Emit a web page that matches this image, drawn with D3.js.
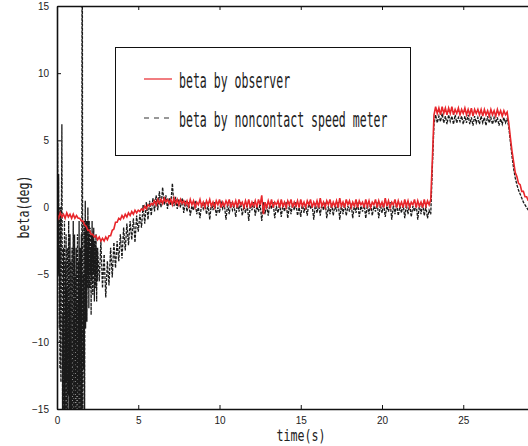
<!DOCTYPE html>
<html>
<head>
<meta charset="utf-8">
<script src="https://cdn.jsdelivr.net/npm/d3@7"></script>
<style>
  body { margin: 0; background: #fff; }
  svg { display: block; }
</style>
</head>
<body>
<div id="container"></div>
<script>
// observer estimate, one value every 0.1 s from 0 s
var observer = [
  -0.5,-0.8,-0.4,-0.7,-0.5,-0.8,-0.4,-0.7,-0.5,-0.8,
  -0.5,-0.8,-0.6,-0.8,-0.8,-1.0,-1.0,-1.3,-1.4,-1.7,
  -1.7,-2.0,-2.0,-2.2,-2.1,-2.4,-2.2,-2.5,-2.3,-2.5,
  -2.2,-2.4,-2.1,-2.1,-1.7,-1.6,-1.1,-1.1,-0.8,-0.9,
  -0.6,-0.8,-0.5,-0.7,-0.4,-0.6,-0.3,-0.5,-0.2,-0.4,
  -0.2,-0.3,-0.1,-0.2,0.1,-0.1,0.2,0.1,0.3,0.2,
  0.5,0.2,0.6,0.3,0.6,0.3,0.7,0.4,0.6,0.3,
  0.6,0.2,0.7,0.3,0.6,0.2,0.6,0.3,0.5,0.2,
  0.5,0.1,0.6,0.2,0.5,0.0,0.4,0.2,0.6,0.1,
  0.4,0.0,0.5,0.2,0.6,0.1,0.4,0.0,0.5,0.2,
  0.6,0.0,0.4,0.1,0.5,0.2,0.6,0.0,0.4,0.1,
  0.5,0.0,0.6,0.2,0.4,0.0,0.5,0.1,0.6,0.0,
  0.4,0.1,0.5,0.0,0.6,0.2,0.9,-0.5,0.4,0.0,
  0.5,0.1,0.6,0.0,0.4,0.2,0.5,0.0,0.6,0.1,
  0.4,0.0,0.5,0.2,0.6,0.0,0.4,0.1,0.5,0.0,
  0.6,0.1,0.4,0.0,0.5,0.2,0.6,0.0,0.4,0.1,
  0.5,0.0,0.7,0.1,0.4,0.0,0.5,0.2,0.6,0.0,
  0.4,0.1,0.5,0.0,0.7,0.1,0.4,0.0,0.6,0.2,
  0.5,0.0,0.4,0.1,0.6,0.0,0.5,0.2,0.4,0.0,
  0.6,0.1,0.5,0.0,0.4,0.2,0.6,0.0,0.5,0.1,
  0.4,0.0,0.7,0.1,0.5,0.0,0.4,0.2,0.6,0.0,
  0.5,0.1,0.4,0.0,0.6,0.1,0.5,0.0,0.4,0.2,
  0.6,0.0,0.5,0.1,0.4,0.0,0.6,0.1,0.5,0.2,
  0.6,3.6,6.9,7.5,7.0,7.4,6.9,7.5,7.0,7.4,
  6.9,7.4,7.0,7.5,6.9,7.3,7.0,7.4,6.9,7.3,
  7.0,7.4,6.9,7.3,6.9,7.4,6.8,7.3,7.0,7.3,
  6.9,7.3,6.8,7.3,6.9,7.2,6.8,7.3,6.9,7.2,
  6.8,7.3,6.9,7.2,6.8,7.2,6.9,7.1,6.3,5.2,
  4.2,3.4,2.6,2.3,1.8,1.7,1.2,1.2,0.8,0.8,
  0.5
];
var observerStep = 0.1;

// speed meter, first 2.5 s sampled every 0.02 s
var meterEarly = [
  0.5,2,4.8,-2,-5,2.5,-1,-9,-3,-12,
  0,-7,-13,-2,1,6.2,-4,-15,-8,-15,
  -3,-11,-15,-1,-9,-15,-4,-13,-2,-15,
  -6,-15,-3,-12,-15,-5,-1,-14,-7,-15,
  -2,-10,-15,-4,-13,-15,-3,-9,-15,-6,
  -1,-15,-8,-15,-2,-12,-15,-5,-15,-3,
  -14,-7,-15,-2,-11,-15,-4,-15,-1,-13,
  -6,-15,-3,-15,-9,-2,-15,18,18,-14,
  -15,-5,-12,-1,-8,-15,-3,0.5,-9,-2,
  -7,-1,-8.5,-3,-6,0,-5,-2,-7.5,-1,
  -4,-6,-1.5,-5,-3,-8,-2,-5.5,-1,-4,
  -6.5,-2,-5,-1.5,-4.5,-7,-2.5,-5,-3,-6,
  -2,-4.5,-7,-3,-5.5
];
var meterEarlyStep = 0.02;

// speed meter from 2.5 s, every 0.1 s
var meterMain = [
  -3,-5.5,-2.5,-6,-3.5,
  -6.7,-4,-5.8,-3,-5.2,-2.6,-4.5,-2.5,-4,-2,
  -3.8,-1.5,-3.2,-1.2,-2.8,-1,-2.4,-0.8,-2.6,-0.6,
  -1.8,-0.5,-1.5,0.2,-1.2,0.4,-0.9,0.5,-0.6,0.7,
  -0.3,0.9,-0.2,1.2,0,1.5,0.2,0.9,-0.1,0.7,
  0.2,1.8,0.1,0.8,-0.1,0.6,0,0.7,-0.4,0.5,
  -0.3,0.4,-0.6,0.1,-0.2,0.5,-0.5,0.0,-0.8,0.3,
  -0.1,0.4,-0.5,0.2,-0.9,0.3,-0.2,0.4,-0.6,0.0,
  -0.4,0.5,-0.1,0.2,-0.9,0.3,-0.5,0.4,-0.2,0.1,
  -0.7,0.3,-0.3,0.4,-0.6,0.1,-0.4,0.3,-1.0,0.2,
  -0.2,0.4,-0.6,0.1,-0.3,0.3,-1.0,0.4,-0.5,0.2,
  -0.6,0.3,-0.1,0.4,-0.8,0.1,-0.4,0.3,-0.7,0.2,
  -0.3,0.4,-0.8,0.2,-0.5,0.3,-0.2,0.4,-0.6,0.0,
  -0.7,0.3,-0.4,0.2,-0.6,0.4,-0.1,0.2,-0.9,0.3,
  -0.4,0.2,-0.6,0.3,-0.2,0.4,-0.8,0.1,-0.5,0.3,
  -0.6,0.2,-0.3,0.4,-0.9,0.2,-0.5,0.3,-0.6,0.1,
  -0.3,0.3,-0.8,0.2,-0.4,0.4,-0.7,0.1,-0.3,0.3,
  -0.8,0.2,-0.5,0.3,-0.6,0.1,-0.3,0.4,-0.8,0.2,
  -0.4,0.3,-0.7,0.1,-0.3,0.4,-0.9,0.2,-0.5,0.3,
  -0.6,0.1,-0.4,0.3,-0.8,0.2,-0.5,0.3,-0.7,0.1,
  -0.3,0.3,-0.9,0.2,-0.5,0.3,-0.6,0.1,-0.8,-0.2,
  -0.5,3.0,6.2,6.9,6.3,6.8,6.4,7.0,6.3,6.8,
  6.2,6.9,6.4,6.8,6.2,6.9,6.3,6.7,6.4,6.8,
  6.2,6.8,6.3,6.9,6.2,6.7,6.1,6.8,6.3,6.7,
  6.2,6.8,6.3,6.7,6.1,6.8,6.3,6.7,6.2,6.7,
  6.3,6.7,6.1,6.6,6.2,6.7,6.3,6.6,6.0,4.9,
  3.8,2.9,2.2,1.7,1.3,1.0,0.7,0.4,0.2,0.0,
  -0.2
];
var meterMainStart = 2.5;
var meterMainStep = 0.1;

var xTicks = [0, 5, 10, 15, 20, 25];
var yTicks = [-15, -10, -5, 0, 5, 10, 15];
var legendLabels = ["beta by observer", "beta by noncontact speed meter"];

var width = 528, height = 446;
var plotLeft = 57, plotTop = 6, plotBottom = 409;

var x = d3.scaleLinear().domain([0, 30]).range([plotLeft, plotLeft + 30 * 16.25]);
var y = d3.scaleLinear().domain([-15, 15]).range([plotBottom, plotTop]);

var observerPts = observer.map((v, i) => [i * observerStep, v]);
var meterPts = meterEarly.map((v, i) => [i * meterEarlyStep, v])
  .concat(meterMain.map((v, i) => [meterMainStart + i * meterMainStep, v]));

var svg = d3.select("#container").append("svg")
  .attr("width", width)
  .attr("height", height);

svg.append("clipPath").attr("id", "plot")
  .append("rect")
    .attr("x", x(0)).attr("y", plotTop)
    .attr("width", x(30) - x(0)).attr("height", plotBottom - plotTop);

var line = d3.line().x(d => x(d[0])).y(d => y(d[1]));

var lines = svg.append("g").attr("clip-path", "url(#plot)");

lines.append("path")
    .datum(meterPts)
    .attr("fill", "none")
    .attr("stroke", "#1a1a1a")
    .attr("stroke-width", 1.3)
    .attr("stroke-dasharray", "3,1.2")
    .attr("d", line);

lines.append("path")
    .datum(observerPts)
    .attr("fill", "none")
    .attr("stroke", "#e8262b")
    .attr("stroke-width", 1.6)
    .attr("d", line);

// axes, ticks pointing inward
var tickFont = "'Liberation Sans Narrow', 'Liberation Sans', Arial, sans-serif";

var gx = svg.append("g")
    .attr("transform", `translate(0,${plotBottom})`)
    .call(d3.axisBottom(x).tickValues(xTicks).tickSizeInner(-4).tickSizeOuter(0).tickPadding(8));

var gtop = svg.append("g")
    .attr("transform", `translate(0,${plotTop})`)
    .call(d3.axisTop(x).tickValues(xTicks).tickSizeInner(-4).tickSizeOuter(0).tickFormat(""));

var gy = svg.append("g")
    .attr("transform", `translate(${plotLeft},0)`)
    .call(d3.axisLeft(y).tickValues(yTicks).tickSizeInner(-4).tickSizeOuter(0).tickPadding(8));

[gx, gtop, gy].forEach(g => {
  g.select(".domain").attr("stroke", "#111").attr("stroke-width", 1.6);
  g.selectAll(".tick line").attr("stroke", "#111");
  g.selectAll("text").attr("font-family", tickFont).attr("font-size", 10).attr("fill", "#222");
});

var labelFont = "'DejaVu Sans Mono', 'Liberation Mono', monospace";

svg.append("text")
    .attr("x", 301).attr("y", 441)
    .attr("text-anchor", "middle")
    .attr("font-family", labelFont).attr("font-size", 16)
    .attr("textLength", 49).attr("lengthAdjust", "spacingAndGlyphs")
    .attr("fill", "#222")
    .text("time(s)");

svg.append("text")
    .attr("transform", "translate(29,207) rotate(-90)")
    .attr("text-anchor", "middle")
    .attr("font-family", labelFont).attr("font-size", 16)
    .attr("textLength", 63).attr("lengthAdjust", "spacingAndGlyphs")
    .attr("fill", "#222")
    .text("beta(deg)");

// legend
var legend = svg.append("g");
legend.append("rect")
    .attr("x", 115.5).attr("y", 47.5)
    .attr("width", 295).attr("height", 108)
    .attr("fill", "#fff").attr("stroke", "#111").attr("stroke-width", 1);

var legendY = [79, 118];
legend.selectAll("line.sample")
  .data(legendLabels)
  .join("line")
    .attr("class", "sample")
    .attr("x1", 144).attr("x2", 172)
    .attr("y1", (d, i) => legendY[i]).attr("y2", (d, i) => legendY[i])
    .attr("stroke", (d, i) => i == 0 ? "#e8262b" : "#333")
    .attr("stroke-width", 1.2)
    .attr("stroke-dasharray", (d, i) => i == 0 ? null : "5,5");

// narrow, tall glyphs like the original figure
legend.selectAll("text")
  .data(legendLabels)
  .join("text")
    .attr("transform", (d, i) => `translate(179,${legendY[i] + 9}) scale(0.825,1.5)`)
    .attr("font-family", labelFont).attr("font-size", 14)
    .attr("fill", "#222")
    .text(d => d);
</script>
</body>
</html>
